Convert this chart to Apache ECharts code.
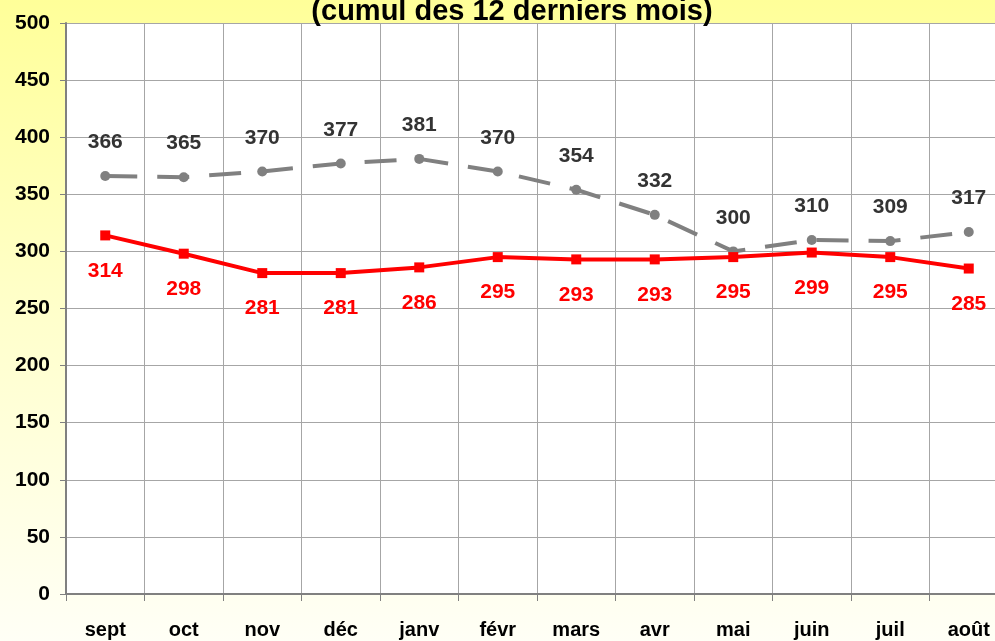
<!DOCTYPE html>
<html>
<head>
<meta charset="utf-8">
<script src="https://cdn.jsdelivr.net/npm/echarts@6/dist/echarts.min.js"></script>
<style>
  html, body { margin: 0; padding: 0; }
  #chart { width: 995px; height: 641px; }
</style>
</head>
<body>
<div id="chart"></div>
<script>
// mois (cumul des 12 derniers mois)
const months = ['sept', 'oct', 'nov', 'déc', 'janv', 'févr', 'mars', 'avr', 'mai', 'juin', 'juil', 'août'];
const greySeries = [366, 365, 370, 377, 381, 370, 354, 332, 300, 310, 309, 317];
const redSeries = [314, 298, 281, 281, 286, 295, 293, 293, 295, 299, 295, 285];
const yTicks = [0, 50, 100, 150, 200, 250, 300, 350, 400, 450, 500];

const font = 'Liberation Sans, Arial, sans-serif';

const chart = echarts.init(document.getElementById('chart'));

chart.setOption({
  backgroundColor: new echarts.graphic.LinearGradient(0, 0, 0, 1, [
    { offset: 0, color: '#ffff99' },
    { offset: 0.5, color: '#ffffcc' },
    { offset: 1, color: '#fffff6' }
  ]),
  animation: false,
  title: {
    text: '(cumul des 12 derniers mois)',
    left: 507,
    textAlign: 'center',
    top: -8,
    textStyle: { fontFamily: font, fontSize: 29, fontWeight: 'bold', color: '#000' }
  },
  grid: {
    left: 66, top: 23, width: 942, height: 571,
    outerBoundsMode: 'none',
    show: true, backgroundColor: '#fff', borderWidth: 0
  },
  xAxis: {
    type: 'category',
    data: months,
    boundaryGap: true,
    axisLine: { lineStyle: { color: '#808080', width: 2 } },
    axisTick: { show: true, length: 7, lineStyle: { color: '#808080', width: 1 } },
    splitLine: { show: true, lineStyle: { color: '#a6a6a6', width: 1 } },
    axisLabel: { margin: 26, color: '#000', fontFamily: font, fontSize: 20, fontWeight: 'bold' }
  },
  yAxis: {
    type: 'value',
    min: yTicks[0],
    max: yTicks[yTicks.length - 1],
    interval: 50,
    axisLine: { show: true, lineStyle: { color: '#808080', width: 2 } },
    axisTick: { show: true, length: 6, lineStyle: { color: '#808080', width: 1 } },
    splitLine: { show: true, lineStyle: { color: '#a6a6a6', width: 1 } },
    axisLabel: { margin: 16, color: '#000', fontFamily: font, fontSize: 21, fontWeight: 'bold' }
  },
  series: [
    {
      name: 'gris',
      type: 'line',
      data: greySeries,
      symbol: 'circle',
      symbolSize: 10,
      itemStyle: { color: '#808080' },
      lineStyle: { color: '#808080', width: 4, type: [32, 20] },
      label: {
        show: true, position: 'top', distance: 18,
        color: '#333', fontFamily: font, fontSize: 21, fontWeight: 'bold'
      },
      z: 2
    },
    {
      name: 'rouge',
      type: 'line',
      data: redSeries,
      symbol: 'rect',
      symbolSize: 10,
      itemStyle: { color: '#ff0000' },
      lineStyle: { color: '#ff0000', width: 4 },
      label: {
        show: true, position: 'bottom', distance: 20,
        color: '#ff0000', fontFamily: font, fontSize: 21, fontWeight: 'bold'
      },
      z: 3
    }
  ]
});
</script>
</body>
</html>
